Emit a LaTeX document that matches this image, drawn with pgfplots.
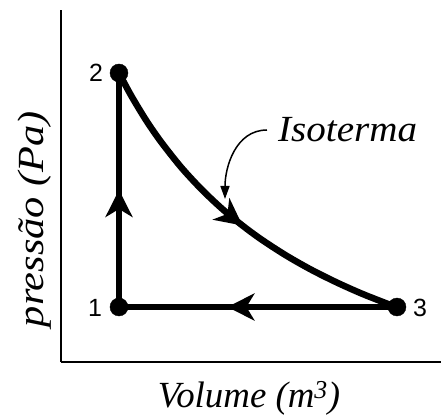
\documentclass[border=0pt]{standalone}
\usepackage{fontspec}
\setmainfont{Liberation Serif}
\newfontfamily\arial{Liberation Sans}
\usepackage{pgfplots}
\pgfplotsset{compat=1.18}
\usetikzlibrary{arrows.meta,decorations.markings}

\begin{document}
\begin{tikzpicture}
\begin{axis}[
    scale only axis,
    width=380bp, height=352bp,
    xmin=0, xmax=380,
    ymin=0, ymax=352,
    axis lines=left,
    axis line style={-, line width=2bp},
    xtick=\empty, ytick=\empty,
    clip=false,
    barb/.style={decoration={markings,
        mark=at position #1 with {\arrow{Stealth[length=27bp,width=27bp,inset=8bp]}}},
        postaction={decorate}},
]
% 1 -> 2 (isochoric)
\addplot[black, line width=6.5bp, barb=0.5] coordinates {(58,55) (58,289)};
% 2 -> 3 (isotherm)
\addplot[black, line width=6.5bp, smooth, barb=0.53] coordinates {
    (58,289.0) (70,266.7) (85,241.9) (100,220.2) (120,194.9) (140,173.2)
    (160,154.2) (180,137.6) (200,122.8) (225,106.6) (250,92.4)
    (275,79.9) (300,68.7) (325,58.8) (336,54.7)
};
% 3 -> 1 (isobaric)
\addplot[black, line width=6.5bp, barb=0.61] coordinates {(336,55) (58,55)};
% states
\addplot[only marks, mark=*, mark size=9bp, black] coordinates {(58,55) (58,289) (336,55)};

\node[font=\arial\fontsize{25}{25}\selectfont] at (axis cs:35,289) {2};
\node[font=\arial\fontsize{25}{25}\selectfont] at (axis cs:34,54) {1};
\node[font=\arial\fontsize{25}{25}\selectfont] at (axis cs:359,54) {3};

\node[anchor=base west, font=\itshape\fontsize{37}{37}\selectfont, inner sep=0pt]
    at (axis cs:217,220) {\scalebox{1.06}[1]{Isoterma}};
\draw[line width=1.5bp, -{Triangle[length=13bp,width=9bp]}]
    (axis cs:206,232) to[out=180, in=90] (axis cs:164,163);

\node[font=\itshape\fontsize{37}{37}\selectfont, inner sep=0pt, anchor=base]
    at (axis cs:188,-45) {Volume (m\textsuperscript{3})};
\node[font=\itshape\fontsize{37}{37}\selectfont, inner sep=0pt, anchor=base, rotate=90]
    at (axis cs:-18,143) {\scalebox{1.15}[1]{pressão (Pa)}};
\end{axis}
\pgfresetboundingbox
\path ([shift={(-61bp,-54bp)}]current axis.south west) rectangle ([shift={(0bp,10bp)}]current axis.north east);
\end{tikzpicture}
\end{document}
